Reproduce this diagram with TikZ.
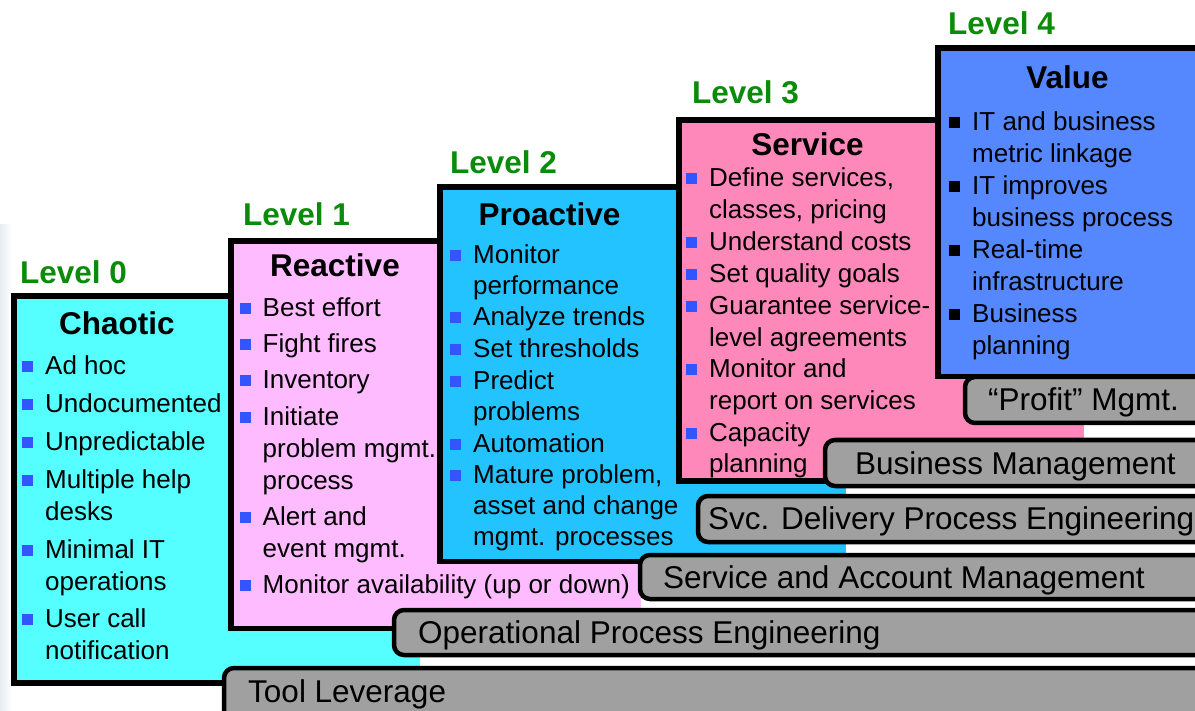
\documentclass[tikz,border=0pt]{standalone}
\usepackage{fontspec}
\setmainfont{Liberation Sans}

\definecolor{lvlgreen}{RGB}{10,140,10}
\definecolor{chaocyan}{RGB}{85,255,255}
\definecolor{reactpink}{RGB}{255,187,255}
\definecolor{problue}{RGB}{34,195,255}
\definecolor{servpink}{RGB}{255,136,187}
\definecolor{valblue}{RGB}{85,136,255}
\definecolor{bargray}{RGB}{160,160,160}
\definecolor{bulblue}{RGB}{51,85,255}
\definecolor{edgegray}{RGB}{230,238,242}

\begin{document}
\begin{tikzpicture}[x=1pt, y=-1pt,
    box/.style={line width=5.5pt},
    bar/.style={draw=black, fill=bargray, line width=4.5pt, rounded corners=10pt},
    lvl/.style={anchor=west, inner sep=0pt, text height=22.5pt, text depth=0pt,
        font=\fontsize{31.5}{36}\selectfont\bfseries, text=lvlgreen},
    ttl/.style={inner sep=0pt, text height=22.5pt, text depth=0pt,
        font=\fontsize{31.5}{36}\selectfont\bfseries},
    bartxt/.style={anchor=west, inner sep=0pt, text height=22.6pt, text depth=0pt,
        font=\fontsize{31.5}{36}\selectfont},
    txt/.style={anchor=west, inner sep=0pt, text height=18.6pt, text depth=0pt,
        font=\fontsize{26}{30}\selectfont},
    bsq/.style={fill=bulblue, minimum width=11pt, minimum height=11pt,
        inner sep=0pt, xshift=-11.5pt, yshift=-1.5pt},
    itm/.style={txt, label={[bsq]left:}},
    itmk/.style={txt, label={[bsq, fill=black]left:}}
]
    \useasboundingbox (0,0) rectangle (1195,711);
    \clip (0,0) rectangle (1195,711);
    \fill[white] (0,0) rectangle (1195,711);
    \shade[left color=edgegray, right color=white] (0,225) rectangle (12,711);

    % Level boxes, lowest first
    \fill[chaocyan] (14,296) rectangle (420,683);
    \draw[box] (420,296) -- (14,296) -- (14,683) -- (420,683);
    \fill[reactpink] (231,241) rectangle (641,628.5);
    \draw[box] (641,241) -- (231,241) -- (231,628.5) -- (641,628.5);
    \fill[problue] (440,187) rectangle (846,561.5);
    \draw[box] (846,187) -- (440,187) -- (440,561.5) -- (846,561.5);
    \fill[servpink] (679,120) rectangle (1084,481);
    \draw[box] (1084,120) -- (679,120) -- (679,481) -- (1084,481);
    \fill[valblue] (938,48) rectangle (1230,376.5);
    \draw[box] (1230,48) -- (938,48) -- (938,376.5) -- (1230,376.5);

    % Gray bars
    \draw[bar] (965,377) rectangle (1230,423);
    \draw[bar] (825,440) rectangle (1230,486);
    \draw[bar] (698,496) rectangle (1230,542);
    \draw[bar] (640,555) rectangle (1230,599);
    \draw[bar] (394,610) rectangle (1230,655);
    \draw[bar] (224,668) rectangle (1230,730);

    % Level labels
    \node[lvl] (lv0) at (20,272.5) {Level 0};
    \node[lvl] (lv1) at (243,214) {Level 1};
    \node[lvl] (lv2) at (450,162) {Level 2};
    \node[lvl] (lv3) at (692,92.5) {Level 3};
    \node[lvl] (lv4) at (948,23.5) {Level 4};

    % Titles
    \node[ttl] (t0) at (117,323) {Chaotic};
    \node[ttl] (t1) at (335,265) {Reactive};
    \node[ttl] (t2) at (549.5,214) {Proactive};
    \node[ttl] (t3) at (807.5,144) {Service};
    \node[ttl] (t4) at (1067.5,77) {Value};

    % Level 0
    \node[itm] (c1) at (45,365) {Ad hoc};
    \node[itm] (c2) at (45,403) {Undocumented};
    \node[itm] (c3) at (45,441) {Unpredictable};
    \node[itm] (c4) at (45,479) {Multiple help};
    \node[txt] (c5) at (45,511) {desks};
    \node[itm] (c6) at (45,549) {Minimal IT};
    \node[txt] (c7) at (45,581) {operations};
    \node[itm] (c8) at (45,618) {User call};
    \node[txt] (c9) at (45,650) {notification};

    % Level 1
    \node[itm] (r1) at (262.5,307) {Best effort};
    \node[itm] (r2) at (262.5,343) {Fight fires};
    \node[itm] (r3) at (262.5,379.5) {Inventory};
    \node[itm] (r4) at (262.5,416) {Initiate};
    \node[txt] (r5) at (262.5,448) {problem mgmt.};
    \node[txt] (r6) at (262.5,480) {process};
    \node[itm] (r7) at (262.5,516) {Alert and};
    \node[txt] (r8) at (262.5,548) {event mgmt.};
    \node[itm] (r9) at (262.5,584) {Monitor availability (up or down)};

    % Level 2
    \node[itm] (p1) at (473,254) {Monitor};
    \node[txt] (p2) at (473,285) {performance};
    \node[itm] (p3) at (473,316.5) {Analyze trends};
    \node[itm] (p4) at (473,348) {Set thresholds};
    \node[itm] (p5) at (473,380) {Predict};
    \node[txt] (p6) at (473,411.5) {problems};
    \node[itm] (p7) at (473,443) {Automation};
    \node[itm] (p8) at (473,474) {Mature problem,};
    \node[txt] (p9) at (473,505) {asset and change};
    \node[txt] (p10) at (473,536) {mgmt. processes};

    % Level 3
    \node[itm] (s1) at (709,177) {Define services,};
    \node[txt] (s2) at (709,209) {classes, pricing};
    \node[itm] (s3) at (709,241) {Understand costs};
    \node[itm] (s4) at (709,273) {Set quality goals};
    \node[itm] (s5) at (709,305) {Guarantee service-};
    \node[txt] (s6) at (709,337) {level agreements};
    \node[itm] (s7) at (709,368.5) {Monitor and};
    \node[txt] (s8) at (709,400) {report on services};
    \node[itm] (s9) at (709,432) {Capacity};
    \node[txt] (s10) at (709,463.5) {planning};

    % Level 4
    \node[itmk] (v1) at (972,121) {IT and business};
    \node[txt] (v2) at (972,153) {metric linkage};
    \node[itmk] (v3) at (972,185) {IT improves};
    \node[txt] (v4) at (972,217) {business process};
    \node[itmk] (v5) at (972,249) {Real-time};
    \node[txt] (v6) at (972,281) {infrastructure};
    \node[itmk] (v7) at (972,313) {Business};
    \node[txt] (v8) at (972,345) {planning};

    % Bar texts
    \node[bartxt] (b5) at (988,399.5) {“Profit” Mgmt.};
    \node[bartxt] (b4) at (855,463) {Business Management};
    \node[bartxt] (b3) at (708,518.5) {Svc. Delivery Process Engineering};
    \node[bartxt] (b2) at (663,577.5) {Service and Account Management};
    \node[bartxt] (b1) at (418,632.5) {Operational Process Engineering};
    \node[bartxt] (b0) at (248,691) {Tool Leverage};
\end{tikzpicture}
\end{document}
